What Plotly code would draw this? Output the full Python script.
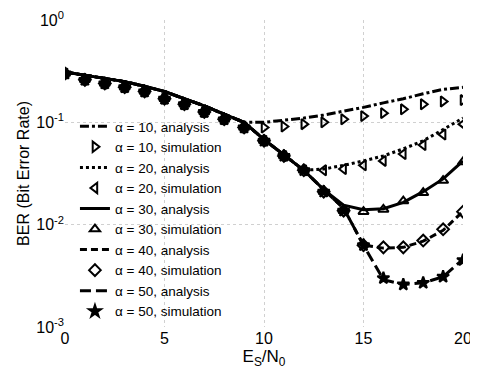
import plotly.graph_objects as go

x = list(range(21))

# Analysis curves (BER vs Es/N0)
ana_a10 = [0.31, 0.29, 0.27, 0.25, 0.225, 0.20, 0.17, 0.145, 0.12, 0.10, 0.10, 0.104, 0.11, 0.118, 0.128, 0.14, 0.155, 0.17, 0.19, 0.21, 0.22]
ana_a20 = [0.31, 0.29, 0.27, 0.25, 0.225, 0.20, 0.17, 0.145, 0.12, 0.10, 0.068, 0.048, 0.034, 0.035, 0.038, 0.042, 0.047, 0.055, 0.066, 0.085, 0.11]
ana_a30 = [0.31, 0.29, 0.27, 0.25, 0.225, 0.20, 0.17, 0.145, 0.12, 0.10, 0.068, 0.048, 0.034, 0.022, 0.0155, 0.014, 0.0143, 0.0165, 0.021, 0.028, 0.042]
ana_a40 = [0.31, 0.29, 0.27, 0.25, 0.225, 0.20, 0.17, 0.145, 0.12, 0.10, 0.068, 0.048, 0.034, 0.022, 0.0145, 0.0063, 0.0059, 0.006, 0.0069, 0.0088, 0.0135]
ana_a50 = [0.31, 0.29, 0.27, 0.25, 0.225, 0.20, 0.17, 0.145, 0.12, 0.10, 0.068, 0.048, 0.034, 0.022, 0.0145, 0.0063, 0.0029, 0.0026, 0.0027, 0.0031, 0.0046]

# Simulation points
sim_a10 = [0.30, 0.26, 0.24, 0.22, 0.20, 0.17, 0.15, 0.126, 0.107, 0.089, 0.089, 0.091, 0.096, 0.10, 0.107, 0.115, 0.123, 0.134, 0.15, 0.16, 0.165]
sim_a20 = [0.30, 0.26, 0.24, 0.22, 0.20, 0.17, 0.15, 0.126, 0.107, 0.089, 0.066, 0.047, 0.034, 0.034, 0.035, 0.038, 0.042, 0.049, 0.06, 0.076, 0.096]
sim_a30 = [0.30, 0.26, 0.24, 0.22, 0.20, 0.17, 0.15, 0.126, 0.107, 0.089, 0.066, 0.047, 0.034, 0.021, 0.0137, 0.0134, 0.0141, 0.017, 0.0205, 0.027, 0.041]
sim_a40 = [0.30, 0.26, 0.24, 0.22, 0.20, 0.17, 0.15, 0.126, 0.107, 0.089, 0.066, 0.047, 0.034, 0.021, 0.0137, 0.0063, 0.006, 0.006, 0.007, 0.009, 0.0134]
sim_a50 = [0.30, 0.26, 0.24, 0.22, 0.20, 0.17, 0.15, 0.126, 0.107, 0.089, 0.066, 0.047, 0.034, 0.021, 0.0137, 0.0063, 0.003, 0.0026, 0.0027, 0.0031, 0.0045]

x_ticks = [0, 5, 10, 15, 20]
y_ticks = [1, 0.1, 0.01, 0.001]
y_ticktext = ["10<sup>0</sup>", "10<sup>-1</sup>", "10<sup>-2</sup>", "10<sup>-3</sup>"]

series = [
    ("α = 10, analysis", ana_a10, "α = 10, simulation", sim_a10, "dashdot", "triangle-right-open"),
    ("α = 20, analysis", ana_a20, "α = 20, simulation", sim_a20, "dot", "triangle-left-open"),
    ("α = 30, analysis", ana_a30, "α = 30, simulation", sim_a30, "solid", "triangle-up-open"),
    ("α = 40, analysis", ana_a40, "α = 40, simulation", sim_a40, "7px,4px", "diamond-open"),
    ("α = 50, analysis", ana_a50, "α = 50, simulation", sim_a50, "11px,5px", "star"),
]

fig = go.Figure()
for ana_name, ana, sim_name, sim, dash, sym in series:
    fig.add_trace(go.Scatter(x=x, y=ana, mode="lines", name=ana_name,
                             line=dict(color="black", width=3, dash=dash)))
    fig.add_trace(go.Scatter(x=x, y=sim, mode="markers", name=sim_name,
                             marker=dict(symbol=sym, size=9, color="black",
                                         line=dict(color="black", width=2))))

fig.update_layout(
    width=470, height=364,
    margin=dict(l=57, r=15, t=12, b=45),
    paper_bgcolor="white", plot_bgcolor="white",
    font=dict(family="Liberation Sans, Arial, sans-serif", size=14, color="black"),
    showlegend=True,
    legend=dict(x=0.025, y=0.0, xanchor="left", yanchor="bottom",
                bgcolor="rgba(255,255,255,0)", borderwidth=0,
                font=dict(size=13.5), tracegroupgap=0),
    xaxis=dict(range=[0, 20], tickvals=x_ticks, showline=False, zeroline=False,
               showgrid=True, gridcolor="#d0d0d0", griddash="dot", gridwidth=1,
               ticks="", automargin=False, ticklabeloverflow="allow",
               title=dict(text="E<sub>S</sub>/N<sub>0</sub>", standoff=2,
                          font=dict(size=17)),
               tickfont=dict(size=16)),
    yaxis=dict(type="log", range=[-3, 0], tickvals=y_ticks, ticktext=y_ticktext,
               showline=False, zeroline=False, showgrid=True, gridcolor="#d0d0d0",
               griddash="dot", gridwidth=1, ticks="", automargin=False,
               ticklabeloverflow="allow",
               title=dict(text="BER (Bit Error Rate)", standoff=2, font=dict(size=16)),
               tickfont=dict(size=16)),
)

fig.write_html("out.html")
